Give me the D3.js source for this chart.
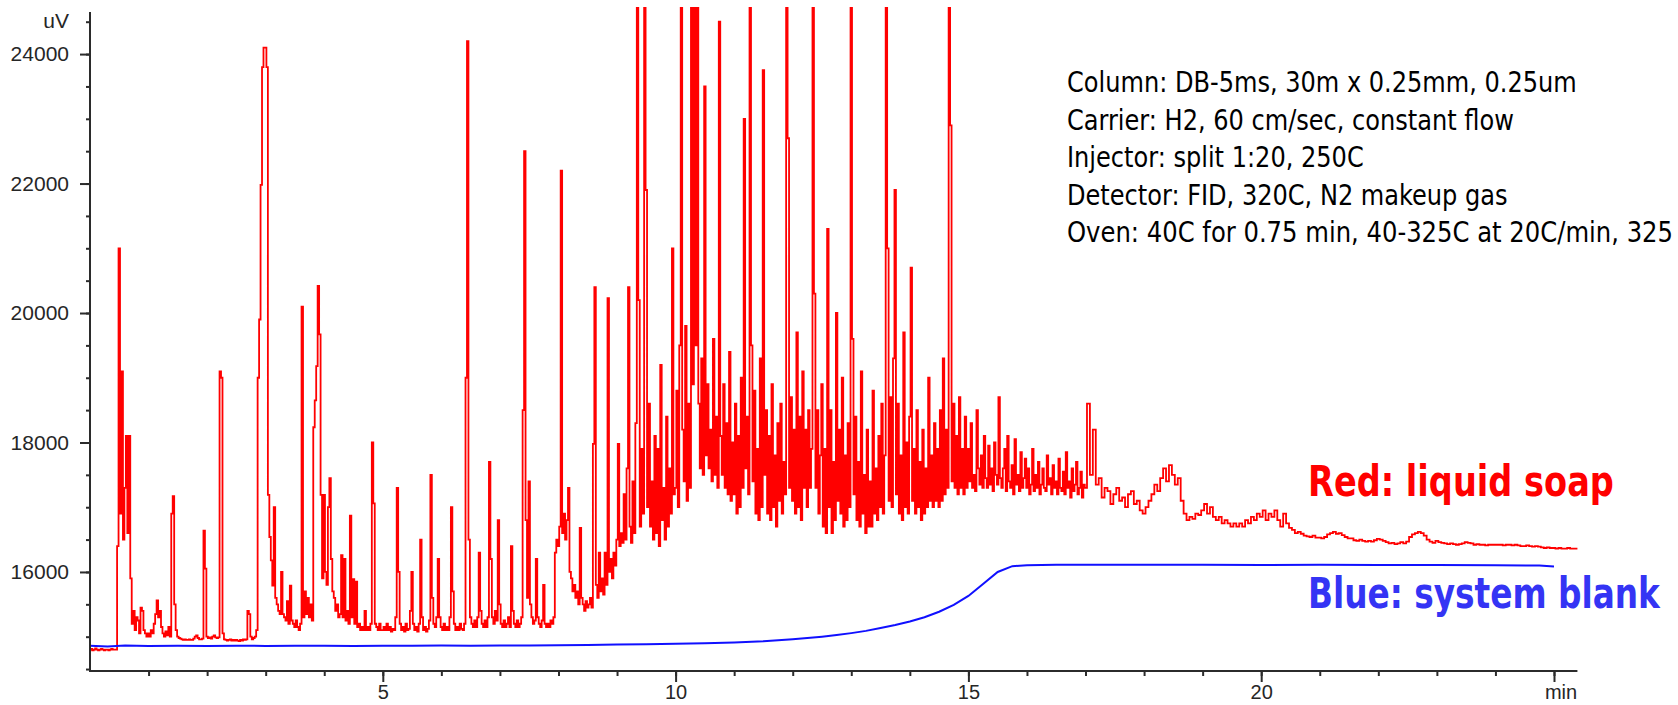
<!DOCTYPE html>
<html>
<head>
<meta charset="utf-8">
<script src="https://cdn.jsdelivr.net/npm/d3@7"></script>
<style>
  html, body { margin: 0; padding: 0; background: #fff; overflow: hidden; }
  svg { display: block; }
</style>
</head>
<body>
<svg id="chart" width="1678" height="705"></svg>
<script>
// ---------------- data ----------------
// axis labels
const timeTickLabels = [5, 10, 15, 20];
const timeUnit = "min";
const signalTickLabels = [16000, 18000, 20000, 22000, 24000];
const signalUnit = "uV";

// Red trace (liquid soap), detector signal in uV sampled on a regular time grid (min)
const soapEarlyStart = 0, soapEarlyStep = 0.025;   // 0.000 – 8.975 min
const soapEarly = [
  14800,14810,14790,14800,14820,14800,14790,14800,14810,14800,14790,14800,14800,14790,14800,14810,14800,14800,14800,16400,
  21000,16900,19100,16500,17300,18100,16600,18100,15900,15200,15400,15100,15300,15250,15050,15450,15400,15100,15050,15000,
  15050,15000,15100,15050,15200,15350,15560,15300,15400,15150,15050,15000,15080,15020,15150,15000,16900,17170,15500,15100,
  15000,14980,14970,14960,14950,14960,14950,14950,14960,14950,14950,14970,15000,15020,14980,14960,14960,14970,16640,16050,
  15000,14980,14990,14970,15000,15020,14990,14980,14990,19100,19000,15050,14960,14950,14940,14950,14960,14940,14950,14940,
  14950,14940,14930,14950,14940,14960,14950,14960,15400,15350,15000,14960,14980,15000,15100,19000,19900,21980,23800,24100,
  24100,23800,17190,16540,16180,15790,17000,15600,15500,15400,15350,16000,15350,15300,15250,15550,15200,15790,15250,15200,
  15150,15250,15150,15100,15200,20100,15300,15700,15350,15600,15300,15500,15250,18235,18650,19180,20420,19670,17190,15900,
  17190,16000,15800,17000,17450,16200,15700,15600,15400,15500,15300,15350,16260,15300,16200,15250,15400,15200,16870,15300,
  15890,15200,15850,15150,15200,15100,15150,15100,15400,15100,15150,15100,15200,18000,17060,15200,15150,15100,15200,15100,
  15100,15150,15100,15200,15100,15150,15080,15120,15100,15300,17300,16000,15200,15100,15150,15080,15200,15100,15120,15400,
  16000,15200,15100,15150,15080,15200,16500,15300,15100,15150,15080,15120,15250,17500,15600,15200,15150,15300,16200,15300,
  15150,15100,15200,15100,15150,15100,15300,17000,15700,15200,15100,15150,15100,15200,15120,15100,15200,19000,24200,16500,
  15300,15200,15150,15250,15150,15300,16300,15400,15200,15150,15250,15150,15300,17700,16200,15300,15200,15400,15250,16800,
  15500,15200,15150,15250,15150,15200,15300,15150,16400,15400,15200,15150,15250,15150,15200,15300,18500,22500,16800,15600,
  17400,15500,15300,15200,15250,16200,15300,15200,15150,15250,15800,15200,15150,15200,15150,15250,15200,15300,16300,16500,
  16400,16700,22200,16600,16900,16500,16800,17300,16000,15900,15700,15800,15600,15700,15500,16680,15600,15500,15400,15550,
  15450,15500,15600,15450,17980,20400,15800,15600,16300,15700,15900,15650,16300,15800,20230,16000,16200,15900,16300,16100
];

const soapMidStart = 9, soapMidStep = 0.025;       // 9.000 – 16.975 min
const soapMid = [
  16500,17980,16400,16600,16450,17200,16500,17600,20400,16700,16450,17400,16600,18300,25000,20200,16700,17900,16900,25000,
  21900,17000,18600,16700,17400,16500,18100,16600,17900,16400,19200,16800,17300,16500,18400,16700,17600,16900,21000,17200,
  17300,18800,17000,19500,25000,18200,17400,19800,17100,18600,17300,25000,18900,25000,19500,25000,18600,17600,19300,17500,
  23500,17800,18900,17600,18200,17400,19600,17500,18400,17300,24500,18100,17500,18900,17300,18300,17200,19400,17100,18000,
  17200,18600,16900,18100,17000,19000,17300,23000,17600,18400,17200,25000,19500,17400,18800,16900,17900,16800,19300,17000,
  23750,17500,18500,16900,18100,16800,18900,17000,17800,16700,18300,17100,18600,16900,17700,17200,25000,22700,17300,18700,
  17100,18200,16900,19700,17000,18400,16800,19100,17300,18200,17000,18500,17300,17900,25000,20300,17300,18500,16900,17800,
  18900,16700,17900,16600,21300,17000,18500,16600,17700,16800,20000,17100,18200,16900,19000,16700,17800,16800,18300,17000,
  25000,19600,17200,18400,16800,17700,16700,19100,16900,17500,16600,18200,16700,17400,16700,18800,16900,17600,16800,18100,
  17000,18600,16900,17800,25000,21000,17100,18700,17000,19300,21900,17200,18600,16900,17800,16800,19700,17000,18000,16900,
  18400,20700,17100,17900,16900,18500,17000,17700,16800,18200,16900,17600,17000,19000,17100,17800,17000,18300,17100,17900,
  17000,18500,17100,19300,17200,18200,17300,25000,22900,17400,18600,17300,18100,17200,18700,17300,17900,17200,18400,17300,
  17900,17400,18300,17300,17500,17250,18500,17600,17350,17800,17300,18100,17450,17300,17950,17350,17600,17250,18000,17500,
  17350,18700,17450,17300,17600,17900,17250,18100,17400,17300,17650,17200,18050,17350,17500,17250,17850,17300,17450,17750,
  17300,17600,17200,17350,17900,17250,17500,17300,17700,17200,17350,17600,17300,17250,17800,17350,17450,17200,17650,17300,
  17400,17200,17750,17300,17250,17550,17200,17850,17300,17400,17150,17600,17250,17350,17700,17200,17300,17550,17150,17350
];

const soapLateStart = 17, soapLateStep = 0.05;     // 17.00 – 25.40 min
const soapLate = [
  17300,18600,17500,18200,17350,17450,17150,17300,17250,17050,17200,17300,17100,17150,17000,17200,17250,17050,17100,16950,
  16900,17000,17100,17200,17350,17250,17450,17600,17400,17650,17500,17350,17450,17100,16900,16800,16850,16820,16900,16880,
  16950,17050,16900,17000,16850,16800,16850,16750,16800,16750,16700,16750,16700,16750,16700,16800,16750,16850,16800,16900,
  16850,16950,16800,16900,16850,16950,16800,16700,16900,16750,16680,16650,16600,16620,16590,16560,16550,16540,16560,16530,
  16530,16520,16540,16580,16600,16620,16590,16600,16570,16540,16520,16520,16490,16480,16500,16480,16470,16480,16470,16490,
  16510,16500,16480,16460,16440,16450,16430,16440,16460,16440,16470,16540,16580,16600,16620,16600,16560,16500,16470,16450,
  16480,16460,16450,16440,16430,16440,16430,16420,16430,16440,16460,16450,16440,16420,16430,16420,16420,16410,16420,16420,
  16420,16420,16420,16410,16420,16420,16410,16420,16410,16400,16400,16410,16400,16390,16400,16390,16380,16370,16380,16370,
  16370,16360,16370,16360,16360,16370,16360,16360,16360
];

// Blue trace (system blank): [time min, signal uV]
const blankTrace = [
  [0,14860],[0.3,14850],[0.6,14862],[1,14858],[1.5,14860],[2,14855],[2.5,14860],[3,14858],[3.5,14860],
  [4,14860],[4.5,14858],[5,14860],[5.5,14860],[6,14862],[6.5,14860],[7,14862],[7.5,14864],[8,14866],
  [8.5,14872],[9,14878],[9.5,14884],[10,14890],[10.5,14898],[11,14910],[11.5,14930],[12,14962],
  [12.25,14980],[12.5,15000],[12.75,15025],[13,15055],[13.25,15090],[13.5,15135],[13.75,15180],
  [14,15235],[14.25,15300],[14.5,15385],[14.75,15490],[15,15630],[15.25,15815],[15.5,16000],
  [15.75,16090],[16,16105],[16.5,16112],[17,16110],[18,16112],[19,16110],[20,16108],[21,16110],
  [22,16108],[23,16106],[24,16104],[24.75,16100],[25,16085]
];

// GC method text
const methodLines = [
  "Column: DB-5ms, 30m x 0.25mm, 0.25um",
  "Carrier: H2, 60 cm/sec, constant flow",
  "Injector: split 1:20, 250C",
  "Detector: FID, 320C, N2 makeup gas",
  "Oven: 40C for 0.75 min, 40-325C at 20C/min, 325"
];
const legendItems = [
  { text: "Red: liquid soap", color: "#ff0000" },
  { text: "Blue: system blank", color: "#3434f4" }
];

// ---------------- drawing ----------------
const svg = d3.select("#chart");

const x = d3.scaleLinear().domain([0, 25]).range([90, 1554]);
const y = d3.scaleLinear().domain([14470, 24650]).range([671, 12]);
const xEnd = 25.4;

const axisFont = "'Liberation Sans', Arial, Helvetica, sans-serif";
const axisColor = "#2b2b2b";
const labelColor = "#262626";

// expand sampled segments into [t, v] points
function expand(start, step, values) {
  return values.map((v, i) => [start + i * step, v]);
}
const soapTrace = [].concat(
  expand(soapEarlyStart, soapEarlyStep, soapEarly),
  expand(soapMidStart, soapMidStep, soapMid),
  expand(soapLateStart, soapLateStep, soapLate)
);

// clip to the plotting area (off-scale peaks run to the top)
svg.append("defs").append("clipPath").attr("id", "plotClip")
  .append("rect").attr("x", x(0)).attr("y", 7)
  .attr("width", x(xEnd) - x(0) + 4).attr("height", y(14470) - 7);

const plot = svg.append("g").attr("clip-path", "url(#plotClip)");

plot.append("path")
  .datum(soapTrace)
  .attr("fill", "none")
  .attr("stroke", "#ff0000")
  .attr("stroke-width", 1.8)
  .attr("d", d3.line().x(d => x(d[0])).y(d => y(d[1])).curve(d3.curveStep));

plot.append("path")
  .datum(blankTrace)
  .attr("fill", "none")
  .attr("stroke", "#1010ff")
  .attr("stroke-width", 2)
  .attr("d", d3.line().x(d => x(d[0])).y(d => y(d[1])));

// ---- y axis ----
const yMinor = svg.append("g").attr("transform", `translate(${x(0)},0)`)
  .call(d3.axisLeft(y).tickValues(d3.range(14500, 24501, 500)).tickSize(4).tickFormat(""));
yMinor.select(".domain").remove();
const yMajor = svg.append("g").attr("transform", `translate(${x(0)},0)`)
  .call(d3.axisLeft(y).tickValues(signalTickLabels).tickSize(10).tickPadding(11).tickFormat(d3.format("d")));
yMajor.select(".domain").remove();
yMajor.selectAll("text").attr("font-family", axisFont).attr("font-size", 21).attr("fill", labelColor);

svg.append("text")
  .attr("x", x(0) - 21).attr("y", y(24500)).attr("dy", "0.32em")
  .attr("text-anchor", "end")
  .attr("font-family", axisFont).attr("font-size", 21).attr("fill", labelColor)
  .text(signalUnit);

// ---- x axis ----
const xMinor = svg.append("g").attr("transform", `translate(0,${y(14470)})`)
  .call(d3.axisBottom(x).tickValues(d3.range(1, 26)).tickSize(5).tickFormat(""));
xMinor.select(".domain").remove();
const xMajor = svg.append("g").attr("transform", `translate(0,${y(14470)})`)
  .call(d3.axisBottom(x).tickValues(timeTickLabels.concat([25])).tickSize(11).tickPadding(3)
    .tickFormat(d => d === 25 ? "" : d3.format("d")(d)));
xMajor.select(".domain").remove();
xMajor.selectAll("text").attr("font-family", axisFont).attr("font-size", 20).attr("fill", labelColor);

svg.append("text")
  .attr("x", x(25) + 7).attr("y", y(14470) + 14).attr("dy", "0.71em")
  .attr("text-anchor", "middle")
  .attr("font-family", axisFont).attr("font-size", 20).attr("fill", labelColor)
  .text(timeUnit);

svg.selectAll(".tick line").attr("stroke", axisColor).attr("stroke-width", 2);

// axis lines
svg.append("path")
  .attr("d", `M${x(0)},${y(24650)}V${y(14470)}H${x(xEnd)}`)
  .attr("fill", "none").attr("stroke", axisColor).attr("stroke-width", 2);

// ---- method annotation ----
const condensed = "'Liberation Sans Narrow', 'Arial Narrow', 'DejaVu Sans Condensed', sans-serif";
const method = svg.append("g");
const methodText = method.selectAll("text").data(methodLines).join("text")
  .attr("x", 0)
  .attr("y", (d, i) => 92 + i * 37.6)
  .attr("font-family", condensed)
  .attr("font-size", 28)
  .attr("fill", "#000")
  .text(d => d);
const methodScale = 510 / methodText.node().getComputedTextLength();
method.attr("transform", `translate(1067,0) scale(${methodScale},1)`);
// the oven line runs to the right edge of the figure
methodText.filter((d, i) => i === methodLines.length - 1)
  .attr("textLength", 606 / methodScale)
  .attr("lengthAdjust", "spacingAndGlyphs");

// ---- legend (bold condensed labels, fitted to their widths) ----
const legendWidths = [306, 352];
svg.selectAll(".legend").data(legendItems).join("text")
  .attr("class", "legend")
  .attr("x", 0)
  .attr("y", 0)
  .attr("font-family", condensed)
  .attr("font-weight", "bold")
  .attr("font-size", 42)
  .attr("fill", d => d.color)
  .text(d => d.text)
  .each(function (d, i) {
    const natural = this.getComputedTextLength();
    d3.select(this).attr("transform",
      `translate(1308,${496 + i * 112}) scale(${legendWidths[i] / natural},1)`);
  });
</script>
</body>
</html>
